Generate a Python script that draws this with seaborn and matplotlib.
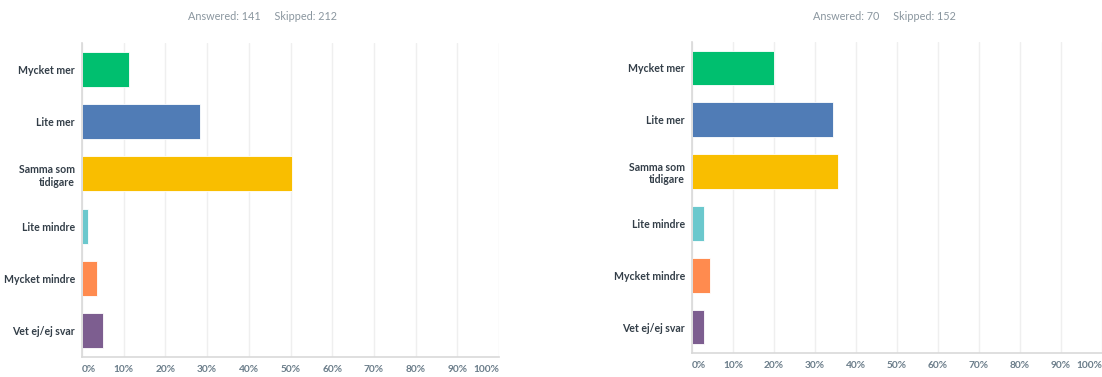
import matplotlib
matplotlib.use("Agg")
import matplotlib.pyplot as plt
import seaborn as sns
import pandas as pd
from matplotlib.ticker import FixedLocator

categories = ["Mycket mer", "Lite mer", "Samma som\ntidigare", "Lite mindre",
              "Mycket mindre", "Vet ej/ej svar"]
left_values = [11.35, 28.37, 50.35, 1.42, 3.55, 4.96]
right_values = [20.0, 34.29, 35.71, 2.86, 4.29, 2.86]
left_header = "Answered: 141     Skipped: 212"
right_header = "Answered: 70     Skipped: 152"
xticks = [0, 10, 20, 30, 40, 50, 60, 70, 80, 90, 100]
xtick_labels = ["0%", "10%", "20%", "30%", "40%", "50%", "60%", "70%", "80%", "90%", "100%"]
colors = ["#00BF6F", "#507CB6", "#F9BE00", "#6BC8CD", "#FF8B4F", "#7D5E90"]

sns.set_theme(style="white")
plt.rcParams["font.family"] = ["Lato", "DejaVu Sans"]

W, H = 1102, 377
fig = plt.figure(figsize=(W / 100, H / 100), dpi=100)

def draw(ax, values, header, hx):
    df = pd.DataFrame({"cat": categories, "val": values})
    sns.barplot(data=df, y="cat", x="val", hue="cat", palette=colors, order=categories,
                hue_order=categories, orient="h", width=0.67, legend=False, ax=ax,
                edgecolor="white", linewidth=0.6, saturation=1)
    ax.set_xlim(0, 100)
    ax.set_ylim(5.5, -0.5)
    ax.xaxis.set_major_locator(FixedLocator(xticks))
    ax.set_xticklabels(xtick_labels)
    ax.grid(axis="x", color="#efefef", linewidth=1)
    ax.set_axisbelow(True)
    ax.set_xlabel("")
    ax.set_ylabel("")
    for s in ["top", "right"]:
        ax.spines[s].set_visible(False)
    for s in ["left", "bottom"]:
        ax.spines[s].set_color("#d9d9d9")
        ax.spines[s].set_linewidth(1.2)
    ax.tick_params(axis="y", length=0, pad=5, labelsize=7.6, labelcolor="#333e48")
    ax.tick_params(axis="x", length=0, pad=5.8, labelsize=7.3, labelcolor="#6a7c89")
    for t in ax.get_yticklabels() + ax.get_xticklabels():
        t.set_fontweight("bold")
    xl = ax.get_xticklabels()
    xl[0].set_ha("left")
    xl[-1].set_ha("right")
    fig.text(hx / W, 1 - 16 / H, header, ha="center", va="center", fontsize=7.8,
             color="#8a969f")

ax1 = fig.add_axes([82 / W, 1 - 357 / H, (499 - 82) / W, (357 - 43) / H])
draw(ax1, left_values, left_header, 263)
ax2 = fig.add_axes([692 / W, 1 - 353 / H, (1102 - 692) / W, (353 - 42) / H])
draw(ax2, right_values, right_header, 884)

fig.savefig("out.png", dpi=100)
